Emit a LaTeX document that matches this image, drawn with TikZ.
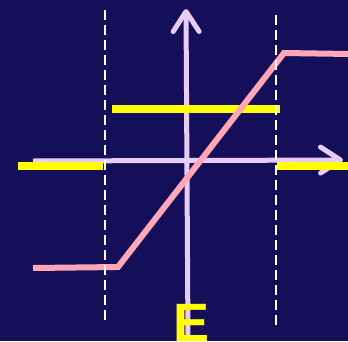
\documentclass[tikz,border=0pt]{standalone}
\usepackage{fontspec}
\setmainfont{Liberation Sans}
\usetikzlibrary{arrows.meta}
\definecolor{bg}{HTML}{150F5A}
\definecolor{axis}{HTML}{E8CCF8}
\definecolor{pinkc}{HTML}{FFA7B6}
\definecolor{yel}{HTML}{FFFF00}
\tikzset{
  axisline/.style={draw=axis, line width=5pt, -{Straight Barb[length=20pt,width=26pt,line cap=round,line join=round]}},
  field/.style={draw=yel, line width=8pt},
  curve/.style={draw=pinkc, line width=6pt, line join=miter},
  guide/.style={draw=white, line width=2.5pt, dash pattern=on 10pt off 5pt}
}
\begin{document}
\begin{tikzpicture}[x=1pt,y=-1pt]
\fill[bg] (0,0) rectangle (348,341);
\useasboundingbox (0,0) rectangle (348,341);
% axes
\draw[axisline] (33,161) -- (343,160);
\draw[axisline] (188,341) -- (186,9);
% yellow field segments
\draw[field] (18,166) -- (103,166);
\draw[field] (277,166) -- (348,166);
\draw[field] (112,109) -- (280,109);
% pink curve
\draw[curve] (33,268) -- (118,267) -- (284,53) -- (350,54);
% dashed guides
\draw[guide] (105,10) -- (105,321);
\draw[guide] (276,15) -- (276,326);
% label
\node[text=yel, font=\bfseries\fontsize{54}{54}\selectfont, anchor=base, inner sep=0pt] (E) at (192,341) {E};
\end{tikzpicture}
\end{document}
